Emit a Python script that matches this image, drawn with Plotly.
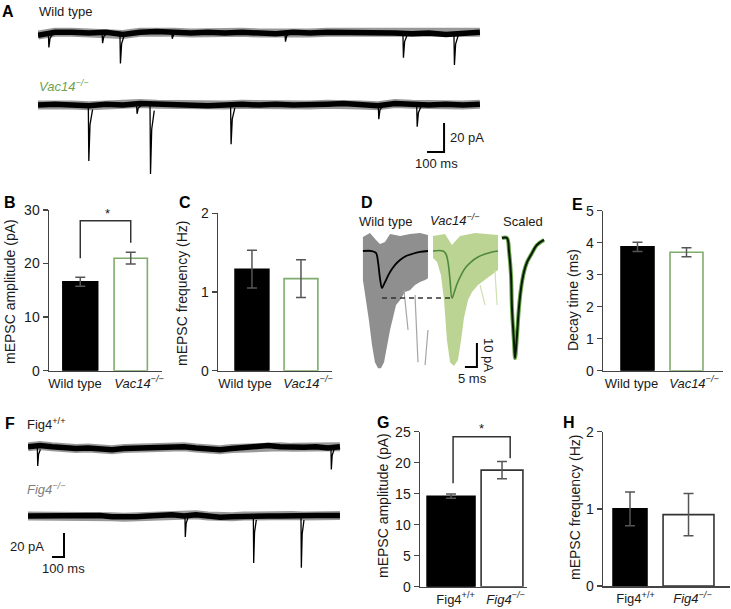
import plotly.graph_objects as go

W, H = 731, 609
FONT = "Liberation Sans, Arial, Helvetica, sans-serif"

# ---------------- data ----------------
groups_vac = ["Wild type", "<i>Vac14<sup>−/−</sup></i>"]
groups_fig = ["Fig4<sup>+/+</sup>", "<i>Fig4<sup>−/−</sup></i>"]

amp_vac_mean = [16.6, 21.0]
amp_vac_sem = [0.85, 1.1]
freq_vac_mean = [1.29, 1.17]
freq_vac_sem = [0.24, 0.24]
decay_vac_mean = [3.87, 3.70]
decay_vac_sem = [0.145, 0.14]
amp_fig_mean = [14.6, 18.8]
amp_fig_sem = [0.35, 1.4]
freq_fig_mean = [1.00, 0.925]
freq_fig_sem = [0.22, 0.275]

ticks_amp_vac = [0, 10, 20, 30]
ticks_freq = [0, 1, 2]
ticks_decay = [0, 1, 2, 3, 4, 5]
ticks_amp_fig = [0, 5, 10, 15, 20, 25]

# Raw traces (panel A): baseline drift every 100 ms (pA) and events (time ms, amplitude pA)
trace_time_A = list(range(0, 2700, 100))
wt_drift_A = [-1.5, 0.5, 0.5, 0, 0.5, -1.0, 0.5, 1.0, 0.5, 0, 0.5, 0, 0.5, 0, -0.5, 0.5,
              0, 0.5, 0.5, 0, 0, 0, -0.5, 0, -1.0, 0, 0.5]
vac_drift_A = [0, 0.5, 0, -0.5, 0.5, 0, 1.0, 0.5, 0, 0, -0.5, 0, 0.5, 0, 0.5, 0,
               0, 0.5, 1.0, 0, -0.5, 1.0, 0.5, 0, 0.5, 0, 0.5]
wt_events_A = [(61, 10), (377, 7), (482, 21), (787, 4), (1453, 6), (2147, 17), (2447, 22)]
vac_events_A = [(296, 38.6), (580, 6), (659, 47.6), (1133, 27), (2002, 9.7), (2228, 15)]

# Raw traces (panel F)
trace_time_F = list(range(0, 2700, 100))
fig_wt_drift = [1, 2, 1, 0, -0.5, 0, -1, -1.5, -0.5, 0, 0.5, 0, 0.5, 1, 0, -1, -1.5,
                -0.5, 0, 1, 2, 1, 0.5, 0.5, 1, 0, 1]
fig_ko_drift = [0, 0, 1, 0.5, 0, 1, 0.5, -0.5, -1, -0.5, 0, 0.5, 1, 0, 1, 0, -1,
                -0.5, 0, 0.5, 0, 0, 0.5, 0, 0.5, 0.5, 0.5]
fig_wt_events = [(78, 15), (2525, 18)]
fig_ko_events = [(1308, 17.5), (1878, 39), (2275, 43)]

# Panel D: averaged mEPSCs (time ms, current pA)
wt_mean_t = [3.3, 7.1, 8.75, 9.6, 10.4, 11.25, 12.1, 13.3, 14.6, 16.7, 18.75, 21.25, 23.75, 27.1, 30.4]
wt_mean_i = [0, 0, -0.8, -4.6, -11.3, -15.4, -13.8, -11.3, -8.75, -5.8, -3.75, -2.1, -1.25, -0.4, 0]
vac_mean_t = [32.5, 36.7, 37.9, 38.75, 39.6, 40.4, 41.25, 42.5, 44.2, 46.25, 48.3, 51.25, 54.2, 57.1, 59.6]
vac_mean_i = [0, 0, -1.25, -4.6, -12.1, -19.6, -17.5, -13.75, -10, -6.7, -4.6, -2.5, -1.25, -0.4, 0]
scaled_t = [61.25, 63.3, 64.2, 65.0, 65.4, 66.25, 66.7, 67.5, 68.3, 69.2, 70.4, 71.7, 73.3, 75.8, 78.75]
scaled_i = [5.4, 5.4, -0.4, -10, -23.75, -37.9, -44.6, -35, -23.75, -15.4, -8.75, -4.6, -1.7, 2.5, 4.6]
# envelopes of the individual events
wt_env_t = [3.3, 4.6, 5.8, 7.1, 8.3, 9.6, 10.8, 12.1, 13.3, 14.6, 15.8, 17.1, 18.8, 20.8, 22.9, 25.0,
            27.1, 29.2, 30.4, 30.4, 27.1, 22.9, 18.8, 14.6, 12.5, 10.4, 8.75, 6.25, 3.3]
wt_env_i = [-12.1, -20.4, -28.8, -39.2, -46.3, -48.8, -48.8, -46.3, -39.2, -32.9, -27.9, -22.5, -20.4,
            -17.1, -16.3, -14.2, -12.9, -12.1, -11.3, 6.7, 7.5, 7.1, 6.3, 7.1, 3.75, 2.9, 4.6, 7.5, 5.8]
vac_env_t = [32.5, 34.2, 35.8, 37.1, 38.3, 39.6, 41.25, 42.9, 44.2, 45.4, 47.1, 48.75, 51.25, 54.2,
             57.1, 59.6, 59.6, 50.0, 43.75, 40.4, 37.5, 32.5]
vac_env_i = [-2.9, -4.6, -10, -20.4, -37.1, -46.3, -47.9, -45.4, -37.1, -27.9, -20.4, -17.1, -14.2,
             -12.1, -10, -7.9, 6.7, 7.5, 6.3, 2.5, 7.1, 6.3]
wt_strays = [([20.4, 22.1], [-16.3, -32.9]), ([25.0, 26.25], [-18.3, -46.3]), ([30.4, 29.2], [-32.9, -47.5])]
vac_strays = [([52.1, 54.2], [-14.2, -22.5]), ([58.3, 59.2], [-7.9, -22.5])]

SCALE_A = (100, 20)   # ms, pA
SCALE_D = (5, 10)
SCALE_F = (100, 20)

# ---------------- helpers ----------------
def px(x, y):
    return x / W, 1 - y / H

def xdom(x0, x1):
    return [x0 / W, x1 / W]

def ydom(ytop, ybot):
    return [1 - ybot / H, 1 - ytop / H]

fig = go.Figure()
annotations = []

def ann(x, y, text, size=13, color="#1a1a1a", xanchor="center", angle=0):
    ax, ay = px(x, y)
    annotations.append(dict(x=ax, y=ay, xref="paper", yref="paper", text=text, showarrow=False,
                            xanchor=xanchor, yanchor="middle", textangle=angle,
                            font=dict(size=size, color=color, family=FONT)))

def add_raw(times, drift, events, offset, xa, ya):
    yb = [offset + d for d in drift]
    fig.add_trace(go.Scatter(x=times, y=yb, mode="lines", xaxis=xa, yaxis=ya,
                             line=dict(color="rgba(0,0,0,0.4)", width=9)))
    fig.add_trace(go.Scatter(x=times, y=yb, mode="lines", xaxis=xa, yaxis=ya,
                             line=dict(color="black", width=5.5)))
    xs, ys = [], []
    for t, a in events:
        xs += [t - 4, t, t + 3, t + 10, t + 25, None]
        ys += [offset, offset, offset - a, offset - a * 0.35, offset - a * 0.08, None]
    fig.add_trace(go.Scatter(x=xs, y=ys, mode="lines", xaxis=xa, yaxis=ya,
                             line=dict(color="black", width=1.3)))

def scalebar(x_end, y_bot, scale, xa, ya):
    dx, dy = scale
    fig.add_trace(go.Scatter(x=[x_end - dx, x_end, x_end], y=[y_bot, y_bot, y_bot + dy],
                             mode="lines", xaxis=xa, yaxis=ya,
                             line=dict(color="black", width=2)))

# ---------------- Panel A ----------------
A_off_vac = -49.7
add_raw(trace_time_A, wt_drift_A, wt_events_A, 0, "x", "y")
add_raw(trace_time_A, vac_drift_A, vac_events_A, A_off_vac, "x", "y")
scalebar(2389, -82.1, SCALE_A, "x", "y")

# ---------------- Panel F ----------------
F_off_ko = -56.7
add_raw(trace_time_F, fig_wt_drift, fig_wt_events, 0, "x6", "y6")
add_raw(trace_time_F, fig_ko_drift, fig_ko_events, F_off_ko, "x6", "y6")
scalebar(300, -90.8, SCALE_F, "x6", "y6")

# ---------------- Panel D ----------------
fig.add_trace(go.Scatter(x=wt_env_t, y=wt_env_i, fill="toself", fillcolor="#8f8f8f", mode="lines",
                         line=dict(width=0, color="#8f8f8f"), xaxis="x4", yaxis="y4"))
for sx, sy in wt_strays:
    fig.add_trace(go.Scatter(x=sx, y=sy, mode="lines", line=dict(color="#a5a5a5", width=1.2),
                             xaxis="x4", yaxis="y4"))
fig.add_trace(go.Scatter(x=vac_env_t, y=vac_env_i, fill="toself", fillcolor="#bcd493", mode="lines",
                         line=dict(width=0, color="#bcd493"), xaxis="x4", yaxis="y4"))
for sx, sy in vac_strays:
    fig.add_trace(go.Scatter(x=sx, y=sy, mode="lines", line=dict(color="#cfe0b2", width=1.2),
                             xaxis="x4", yaxis="y4"))
fig.add_trace(go.Scatter(x=wt_mean_t, y=wt_mean_i, mode="lines", line=dict(color="black", width=1.8, shape="spline"),
                         xaxis="x4", yaxis="y4"))
fig.add_trace(go.Scatter(x=vac_mean_t, y=vac_mean_i, mode="lines", line=dict(color="#4f8a3a", width=1.6, shape="spline"),
                         xaxis="x4", yaxis="y4"))
fig.add_trace(go.Scatter(x=[wt_mean_t[5], vac_mean_t[5]], y=[vac_mean_i[5], vac_mean_i[5]], mode="lines",
                         line=dict(color="#333333", width=1.5, dash="5px,4px"), xaxis="x4", yaxis="y4"))
fig.add_trace(go.Scatter(x=scaled_t, y=scaled_i, mode="lines", line=dict(color="#6aa84a", width=4, shape="spline"),
                         xaxis="x4", yaxis="y4"))
fig.add_trace(go.Scatter(x=scaled_t, y=scaled_i, mode="lines", line=dict(color="#0a1a08", width=2, shape="spline"),
                         xaxis="x4", yaxis="y4"))
scalebar(50.8, -48.3, SCALE_D, "x4", "y4")

# ---------------- bar panels ----------------
def bar_panel(n, means, sems, widths, fills, outlines):
    fig.add_trace(go.Bar(x=[0, 1], y=means, width=widths, xaxis=f"x{n}", yaxis=f"y{n}",
                         marker=dict(color=fills, line=dict(color=outlines, width=1.6)),
                         error_y=dict(type="data", array=sems, color="#555555", thickness=1.5, width=5)))

GREEN_EDGE = "#7fac6c"
bar_panel(2, amp_vac_mean, amp_vac_sem, [0.69, 0.66], ["black", "white"], ["black", GREEN_EDGE])
bar_panel(3, freq_vac_mean, freq_vac_sem, [0.69, 0.69], ["black", "white"], ["black", GREEN_EDGE])
bar_panel(5, decay_vac_mean, decay_vac_sem, [0.673, 0.673], ["black", "white"], ["black", GREEN_EDGE])
bar_panel(7, amp_fig_mean, amp_fig_sem, [0.94, 0.82], ["black", "white"], ["black", "#333333"])
bar_panel(8, freq_fig_mean, freq_fig_sem, [0.58, 0.87], ["black", "white"], ["black", "#333333"])

# significance brackets
fig.add_trace(go.Scatter(x=[0, 0, 1, 1], y=[21.0, 28, 28, 23.9], mode="lines", xaxis="x2", yaxis="y2",
                         line=dict(color="#333333", width=1.5), cliponaxis=False))
fig.add_trace(go.Scatter(x=[0.04, 0.04, 1.16, 1.16], y=[16.7, 24.2, 24.2, 20.7], mode="lines", xaxis="x7", yaxis="y7",
                         line=dict(color="#333333", width=1.5), cliponaxis=False))
ann(107, 213, "*", size=13)
ann(481, 428, "*", size=13)

# ---------------- layout ----------------
hidden = dict(visible=False, showgrid=False, zeroline=False)

def bar_x(x0, x1, rng, groups, label_pos, anchor):
    return dict(domain=xdom(x0, x1), range=rng, anchor=anchor, showline=True, linecolor="#444444",
                linewidth=1.5, ticks="", tickvals=label_pos, ticktext=groups, showgrid=False, zeroline=False,
                tickangle=0, automargin=False,
                tickfont=dict(size=13, color="#1a1a1a", family=FONT), fixedrange=True)

def bar_y(ytop, ybot, rng, tv, anchor):
    return dict(domain=ydom(ytop, ybot), range=rng, anchor=anchor, showline=True, linecolor="#444444",
                linewidth=1.5, ticks="outside", ticklen=5, tickwidth=1.5, tickcolor="#444444",
                tickvals=tv, showgrid=False, zeroline=False, automargin=False,
                tickfont=dict(size=14, color="#1a1a1a", family=FONT), fixedrange=True)

layout = dict(
    width=W, height=H, margin=dict(l=0, r=0, t=0, b=0, pad=0), autosize=False,
    paper_bgcolor="white", plot_bgcolor="white", showlegend=False,
    font=dict(family=FONT, size=13, color="#1a1a1a"),
    bargap=0, hovermode=False,
    # A
    xaxis=dict(domain=xdom(38, 484), range=[0, 2624], anchor="y", **hidden),
    yaxis=dict(domain=ydom(20, 180), range=[-101.4, 8.97], anchor="x", **hidden),
    # B
    xaxis2=bar_x(49, 162, [-0.62, 1.62], groups_vac, [-0.105, 1.164], "y2"),
    yaxis2=bar_y(210, 370.7, [0, 30], ticks_amp_vac, "x2"),
    # C
    xaxis3=bar_x(218, 332, [-0.693, 1.633], groups_vac, [-0.142, 1.143], "y3"),
    yaxis3=bar_y(213.3, 370.7, [0, 2], ticks_freq, "x3"),
    # D
    xaxis4=dict(domain=xdom(355, 550), range=[0, 81.25], anchor="y4", **hidden),
    yaxis4=dict(domain=ydom(225, 385), range=[-55.8, 10.83], anchor="x4", **hidden),
    # E
    xaxis5=bar_x(603, 723, [-0.704, 1.745], groups_vac, [-0.122, 1.153], "y5"),
    yaxis5=bar_y(210.7, 370.7, [0, 5], ticks_decay, "x5"),
    # F
    xaxis6=dict(domain=xdom(28, 348), range=[0, 2667], anchor="y6", **hidden),
    yaxis6=dict(domain=ydom(420, 590), range=[-118.3, 23.3], anchor="x6", **hidden),
    # G
    xaxis7=bar_x(420, 527, [-0.609, 1.49], groups_fig, [0.088, 1.069], "y7"),
    yaxis7=bar_y(431.7, 586.7, [0, 25], ticks_amp_fig, "x7"),
    # H
    xaxis8=bar_x(603, 730, [-0.4616, 1.709], groups_fig, [0.094, 1.068], "y8"),
    yaxis8=bar_y(431.7, 586, [0, 2], ticks_freq, "x8"),
)

# panel letters
for letter, (lx, ly) in {"A": (8, 12), "B": (10, 203), "C": (185, 203), "D": (367, 202),
                         "E": (577, 205), "F": (10, 423), "G": (383, 422), "H": (569, 422)}.items():
    ann(lx, ly, f"<b>{letter}</b>", size=16, color="black")

# trace labels
ann(37, 12, "Wild type", xanchor="left")
ann(37, 86, "<i>Vac14<sup>−/−</sup></i>", xanchor="left", color="#6f9f50")
ann(448, 138, "20 pA", xanchor="left")
ann(436, 163, "100 ms")
ann(385, 221, "Wild type", size=13)
ann(455, 220, "<i>Vac14<sup>−/−</sup></i>", size=13)
ann(523, 221, "Scaled", size=13)
ann(489, 355, "10 pA", angle=90)
ann(472, 378, "5 ms")
ann(25, 424, "Fig4<sup>+/+</sup>", xanchor="left")
ann(25, 489, "<i>Fig4<sup>−/−</sup></i>", xanchor="left", color="#808080")
ann(46, 546, "20 pA", xanchor="right")
ann(63, 568, "100 ms")

# y axis titles
ann(10, 292, "mEPSC amplitude (pA)", size=14, angle=-90)
ann(182, 294, "mEPSC frequency (Hz)", size=14, angle=-90)
ann(573, 300, "Decay time (ms)", size=14, angle=-90)
ann(383, 505, "mEPSC amplitude (pA)", size=14, angle=-90)
ann(575, 508, "mEPSC frequency (Hz)", size=14, angle=-90)

layout["annotations"] = annotations
fig.update_layout(**layout)
fig.write_html("out.html", config={"displayModeBar": False, "staticPlot": True},
               post_script="document.body.style.margin='0';document.body.style.padding='0';")
